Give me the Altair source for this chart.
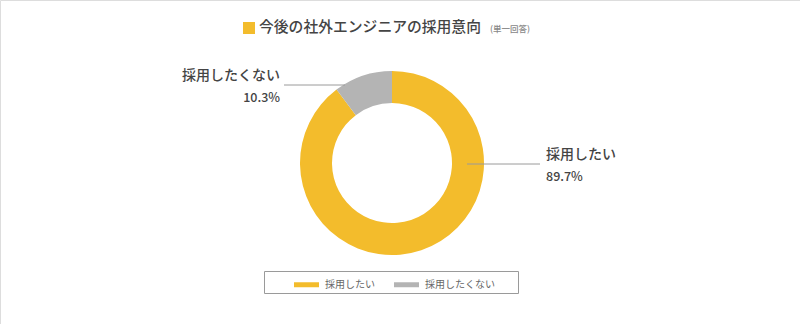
import altair as alt
import pandas as pd

FONT = "Noto Sans CJK JP"

title_text = "今後の社外エンジニアの採用意向"
title_note = "(単一回答)"
categories = ["採用したい", "採用したくない"]
values = [89.7, 10.3]
colors = ["#F3BC2C", "#B4B4B4"]

df = pd.DataFrame({"cat": categories, "val": values, "ord": list(range(len(categories)))})
df["pct"] = [f"{v}%" for v in values]

base = alt.Chart(df)

donut = base.mark_arc(outerRadius=92, innerRadius=60, stroke=None).encode(
    x=alt.value(392),
    y=alt.value(163),
    theta=alt.Theta("val:Q", stack=True),
    order=alt.Order("ord:Q"),
    color=alt.Color(
        "cat:N",
        scale=alt.Scale(domain=categories, range=colors),
        legend=alt.Legend(
            title=None,
            orient="none",
            legendX=294,
            legendY=272,
            direction="horizontal",
            symbolType="M-1,-0.2H1V0.2H-1Z",
            symbolSize=625,
            symbolStrokeWidth=0,
            labelFont=FONT,
            labelFontSize=10,
            labelColor="#666666",
            columnPadding=19,
            labelOffset=6,
            padding=0,
        ),
    ),
)

legend_box = alt.Chart(pd.DataFrame({"a": [0]})).mark_rect(
    fill="white", stroke="#9a9a9a", strokeWidth=1
).encode(x=alt.value(264.5), x2=alt.value(518.5), y=alt.value(271.5), y2=alt.value(293.5))

title_sq = alt.Chart(pd.DataFrame({"a": [0]})).mark_rect(color=colors[0]).encode(
    x=alt.value(243), x2=alt.value(255), y=alt.value(22), y2=alt.value(34)
)
title_main = alt.Chart(pd.DataFrame({"t": [title_text]})).mark_text(
    font=FONT, fontSize=14.8, fontWeight=500, color="#444444", align="left", baseline="middle"
).encode(x=alt.value(259), y=alt.value(28), text="t:N")
title_sub = alt.Chart(pd.DataFrame({"t": [title_note]})).mark_text(
    font=FONT, fontSize=8.5, fontWeight=500, color="#888888", align="left", baseline="middle"
).encode(x=alt.value(490), y=alt.value(29), text="t:N")

lines = alt.Chart(pd.DataFrame({"a": [0]})).mark_rule(color="#9a9a9a", strokeWidth=1)
line_r = lines.encode(x=alt.value(467), x2=alt.value(540), y=alt.value(164))
line_l = lines.encode(x=alt.value(284), x2=alt.value(345), y=alt.value(85))

def lab(i, x, y1, y2, align):
    d = pd.DataFrame({"cat": [categories[i]], "pct": [df["pct"][i]]})
    c = alt.Chart(d)
    t1 = c.mark_text(font=FONT, fontSize=14, fontWeight=500, color="#444444",
                     align=align, baseline="middle").encode(x=alt.value(x), y=alt.value(y1), text="cat:N")
    t2 = c.mark_text(font=FONT, fontSize=12.5, fontWeight=500, color="#444444",
                     align=align, baseline="middle").encode(x=alt.value(x), y=alt.value(y2), text="pct:N")
    return t1 + t2

lab_r = lab(0, 546, 155, 177, "left")
lab_l = lab(1, 280, 76, 98, "right")

chart = alt.layer(
    legend_box, donut, title_sq, title_main, title_sub, line_r, line_l, lab_r, lab_l
).properties(
    width=800, height=324, padding=0, autosize=alt.AutoSizeParams(type="none")
).configure_view(stroke=None).configure(background="white")

chart.save("out.html", embed_options={"renderer": "svg", "actions": False})
